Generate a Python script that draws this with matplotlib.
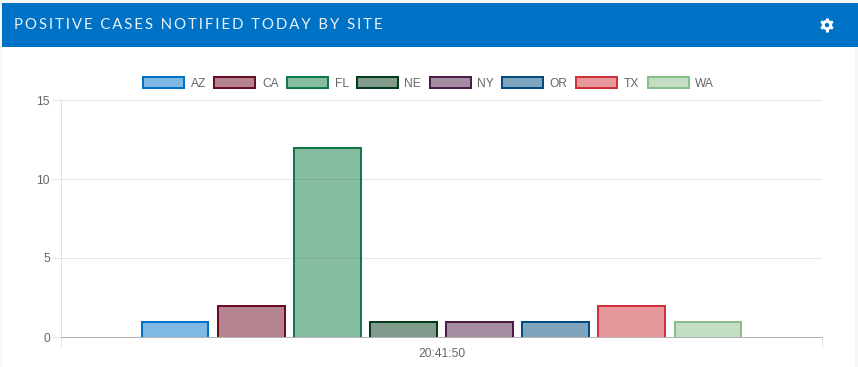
import numpy as np
import matplotlib
matplotlib.use('Agg')
import matplotlib.pyplot as plt
from matplotlib.patches import Rectangle, Circle
from matplotlib.transforms import ScaledTranslation
from matplotlib.colors import to_rgba

# datos del grafico
sites = ['AZ', 'CA', 'FL', 'NE', 'NY', 'OR', 'TX', 'WA']
cases = [1, 2, 12, 1, 1, 1, 2, 1]
site_colors = ['#0072C6', '#6B0D25', '#0F7A45', '#053A1B', '#4A1A48', '#004B7F', '#D0323C', '#88BF88']
y_ticks = [0, 5, 10, 15]
time_label = '20:41:50'
title = 'POSITIVE CASES NOTIFIED TODAY BY SITE'

W, H = 858, 367
DPI = 100
PX = 72 / DPI  # un pixel en puntos
text_gray = '#666666'

plt.rcParams['font.family'] = ['Liberation Sans', 'DejaVu Sans']

fig = plt.figure(figsize=(W / DPI, H / DPI), dpi=DPI, facecolor='#F7F7F7')

# fondo en pixeles: tarjeta, cabecera azul y engranaje
bg = fig.add_axes([0, 0, 1, 1])
bg.set_xlim(0, W)
bg.set_ylim(H, 0)
bg.axis('off')
bg.add_patch(Rectangle((2, 3), 853, 364, fc='white', ec='none', zorder=0))
bg.add_patch(Rectangle((2, 3), 856, 44, fc='#0072C6', ec='none', zorder=0))

spaced = '\u2009'.join(title)
bg.text(14, 25, spaced, color='#E6F1F9', fontsize=10.8, family=['Lato', 'DejaVu Sans'],
        va='center', ha='left')

gx, gy = 827, 25
for ang in np.deg2rad([90, 150, 30]):
    bg.plot([gx - 6.8 * np.cos(ang), gx + 6.8 * np.cos(ang)],
            [gy - 6.8 * np.sin(ang), gy + 6.8 * np.sin(ang)],
            color='white', lw=3 * PX, solid_capstyle='butt', zorder=1)
bg.add_patch(Circle((gx, gy), 5.2, fc='white', ec='none', zorder=2))
bg.add_patch(Circle((gx, gy), 2.2, fc='#0072C6', ec='none', zorder=3))

# area del grafico
left, right, top, bottom = 61, 822, 100, 337
ax = fig.add_axes([left / W, 1 - bottom / H, (right - left) / W, (bottom - top) / H])
ax.patch.set_alpha(0)

# el borde va hacia dentro de la barra, por eso se baja 1 px (la base queda recortada)
shift = ScaledTranslation(0, -1 / DPI, fig.dpi_scale_trans)
n = len(sites)
for i, (s, v, c) in enumerate(zip(sites, cases, site_colors)):
    ax.bar((i - (n - 1) / 2) * 0.1, v, width=0.0874, facecolor=to_rgba(c, 0.5), edgecolor=c,
           linewidth=2 * PX, label=s, zorder=3, transform=ax.transData + shift)

ax.set_xlim(-0.5, 0.5)
ax.set_ylim(0, 15)
ax.set_yticks(y_ticks)
ax.grid(axis='y', color='#E6E6E6', linewidth=1 * PX, zorder=0)
ax.tick_params(axis='y', length=9 * PX, width=1 * PX, color='#E6E6E6', labelcolor=text_gray,
               labelsize=8.64, pad=2 * PX)
ax.set_xticks([-0.5, 0.5])
ax.set_xticklabels([])
ax.set_xticks([0], minor=True)
ax.set_xticklabels([time_label], minor=True)
ax.tick_params(axis='x', which='major', length=10 * PX, width=1 * PX, color='#E6E6E6')
ax.tick_params(axis='x', which='minor', length=0, labelcolor=text_gray, labelsize=8.64, pad=11 * PX)

for side in ['top', 'right']:
    ax.spines[side].set_visible(False)
ax.spines['left'].set_color('#E0E0E0')
ax.spines['left'].set_linewidth(1 * PX)
ax.spines['bottom'].set_color('#B3B3B3')
ax.spines['bottom'].set_linewidth(1 * PX)

fs = 8.64
em = fs / PX
leg = ax.legend(loc='center', bbox_to_anchor=(428.5 / W, 1 - 83.5 / H), bbox_transform=fig.transFigure,
                ncol=n, frameon=False, fontsize=fs, labelcolor=text_gray,
                handlelength=41 / em, handleheight=12 / em, handletextpad=6.5 / em,
                columnspacing=8.45 / em, borderpad=0, borderaxespad=0)

fig.savefig('out.png', dpi=DPI, facecolor=fig.get_facecolor())
